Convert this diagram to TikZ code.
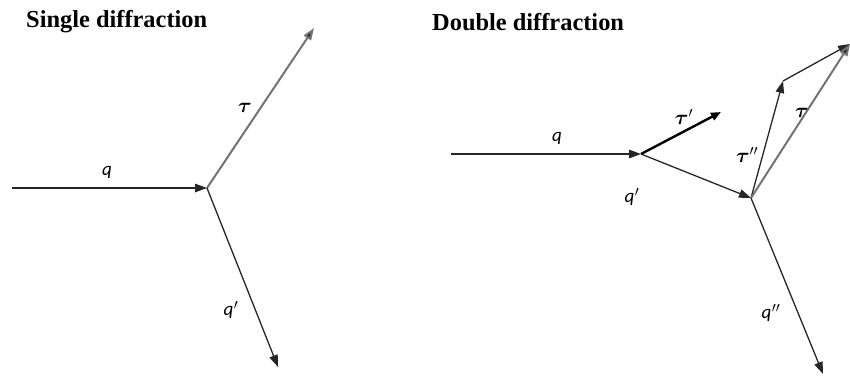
\documentclass[tikz,border=0pt]{standalone}
\usepackage{fontspec}
\usepackage{amsmath,bm}
\setmainfont{Liberation Serif}
\newfontfamily\lblfont{Carlito}
\usetikzlibrary{arrows.meta}
\tikzset{
  vec/.style={draw=black!85, line width=1.3pt, -{Triangle[length=12pt,width=8.5pt]}},
  tauvec/.style={draw=black!55, line width=2pt, -{Triangle[length=12pt,width=8.5pt,fill=black!85]}},
  thickvec/.style={draw=black, line width=2.4pt, -{Triangle[length=10pt,width=8pt]}},
  title/.style={font=\fontsize{24.4}{26}\selectfont\bfseries, anchor=west, inner sep=0pt},
  qlbl/.style={font=\lblfont\itshape\fontsize{19}{20}\selectfont, inner sep=0pt},
  tlbl/.style={font=\fontsize{21}{22}\selectfont, inner sep=0pt}
}
\begin{document}
\begin{tikzpicture}[x=1pt,y=-1pt]
\useasboundingbox (0,0) rectangle (850,376);
\clip (0,0) rectangle (850,376);
% titles
\node[title] (t1) at (26,22) {Single diffraction};
\node[title] (t2) at (432,22) {Double diffraction};
% single
\coordinate (a0) at (12,188);
\coordinate (a1) at (207,188);
\coordinate (a2) at (314,28);
\coordinate (a3) at (278,367);
\draw[vec] (a0) -- (a1);
\draw[tauvec] (a1) -- (a2);
\draw[vec] (a1) -- (a3);
\node[qlbl] (lq) at (107,172) {q};
\node[tlbl] (lt) at (245,108) {$\bm{\tau}$};
\node[qlbl] (lqp) at (231,310) {q\kern0.5pt$'$};
% double
\coordinate (b0) at (451,154);
\coordinate (b1) at (641,154);
\coordinate (b2) at (721,112);
\coordinate (b3) at (751,198);
\coordinate (b4) at (783,81);
\coordinate (b5) at (850,44);
\coordinate (b6) at (823,374);
\draw[vec] (b0) -- (b1);
\draw[thickvec] (b1) -- (b2);
\draw[vec] (b1) -- (b3);
\draw[vec] (b3) -- (b4);
\draw[vec] (b4) -- (b5);
\draw[tauvec] (b3) -- (b5);
\draw[vec] (b3) -- (b6);
\node[qlbl] (rq) at (557,138) {q};
\node[tlbl] (rtp) at (684,117) {$\bm{\tau}'$};
\node[tlbl] (rtpp) at (747,155) {$\bm{\tau}''$};
\node[tlbl] (rt) at (802,113) {$\bm{\tau}$};
\node[qlbl] (rqp) at (632,197) {q\kern0.5pt$'$};
\node[qlbl] (rqpp) at (771,313) {q\kern0.5pt$''$};
\end{tikzpicture}
\end{document}
